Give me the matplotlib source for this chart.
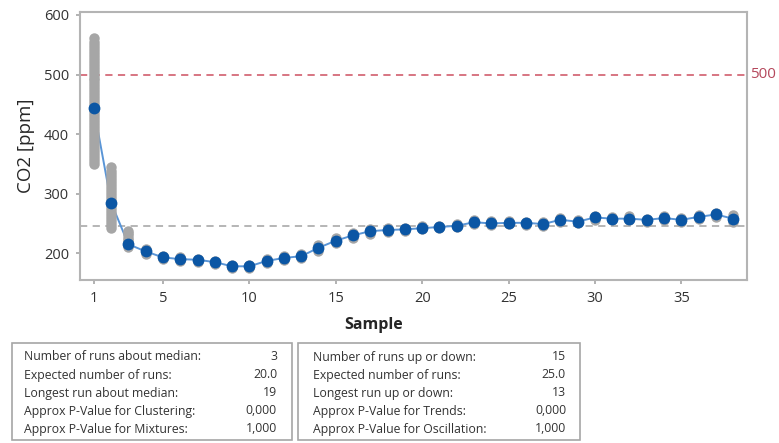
import matplotlib.pyplot as plt
from matplotlib.patches import Rectangle

# subgroup means of CO2 per sample
samples = list(range(1, 39))
co2_mean = [
    443, 285, 215, 203, 193, 190, 189, 185, 178, 178,
    187, 192, 195, 209, 221, 230, 237, 239, 240, 242,
    244, 246, 252, 250, 251, 251, 249, 256, 253, 260,
    258, 258, 256, 259, 256, 261, 265, 258,
]

# individual observations where the spread is visible
obs_1 = [350, 355, 360, 365, 370, 375, 380, 385, 390, 395, 400, 405,
         410, 415, 420, 425, 430, 435, 440, 445, 450, 455, 460, 465,
         470, 475, 480, 485, 490, 495, 500, 505, 510, 515, 520, 525,
         530, 535, 540, 545, 550, 555, 561]
obs_2 = [243, 248, 253, 258, 263, 268, 273, 278, 283, 288, 293, 298,
         303, 308, 313, 318, 323, 328, 333, 338, 344]
obs_3 = [210, 214, 218, 222, 226, 230, 234, 237]
# low / high observation of the remaining samples
obs_lo = [198, 190, 187, 186, 182, 175, 175, 183, 189, 192, 204, 217, 226,
          232, 236, 238, 240, 242, 244, 249, 247, 249, 248, 246, 252, 250,
          256, 255, 255, 253, 256, 253, 258, 261, 253]
obs_hi = [207, 196, 193, 191, 187, 181, 181, 190, 195, 199, 214, 225, 234,
          241, 242, 243, 245, 246, 249, 255, 254, 254, 253, 252, 259, 256,
          263, 261, 262, 258, 262, 259, 264, 268, 264]

median = 246
limit = 500

runs_median = [
    ("Number of runs about median:", "3"),
    ("Expected number of runs:", "20.0"),
    ("Longest run about median:", "19"),
    ("Approx P-Value for Clustering:", "0,000"),
    ("Approx P-Value for Mixtures:", "1,000"),
]
runs_updown = [
    ("Number of runs up or down:", "15"),
    ("Expected number of runs:", "25.0"),
    ("Longest run up or down:", "13"),
    ("Approx P-Value for Trends:", "0,000"),
    ("Approx P-Value for Oscillation:", "1,000"),
]

plt.rcParams["font.family"] = ["Open Sans", "DejaVu Sans"]
W, H = 779, 443
fig = plt.figure(figsize=(W / 100, H / 100), dpi=100)
ax = fig.add_axes([80 / W, 1 - 280 / H, 667 / W, 268 / H])

grey = "#a6a6a6"
blue = "#0b56a4"

ax.plot(samples, co2_mean, color="#5a95d6", lw=1.4, zorder=2)

obs_x, obs_y = [], []
for s, vals in zip([1, 2, 3], [obs_1, obs_2, obs_3]):
    obs_x += [s] * len(vals)
    obs_y += vals
for s, lo, hi in zip(samples[3:], obs_lo, obs_hi):
    obs_x += [s, s]
    obs_y += [lo, hi]
ax.plot(obs_x, obs_y, "o", color=grey, ms=7.5, mec="none", zorder=3)

ax.plot(samples, co2_mean, "o", color=blue, ms=8.5, mec="none", zorder=4)

ax.axhline(median, color="#b0b0b0", lw=1.3, ls=(0, (4, 3)), zorder=1)
ax.axhline(limit, color="#d46a78", lw=1.3, ls=(0, (4, 3)), zorder=1)
ax.text(1.004, limit, "500", transform=ax.get_yaxis_transform(),
        color="#b5485c", fontsize=11, va="center", ha="left")

ax.set_xlim(0.2, 38.8)
ax.set_ylim(155, 605)
ax.set_xticks([1, 5, 10, 15, 20, 25, 30, 35])
ax.set_yticks([200, 300, 400, 500, 600])
ax.tick_params(colors="#a6a6a6", labelcolor="#333333", labelsize=10.5,
               length=3, width=1.2, pad=5)
for side in ax.spines.values():
    side.set_color("#b4b4b4")
    side.set_linewidth(1.5)

ax.set_ylabel("CO2 [ppm]", fontsize=13.5, color="#262626", labelpad=6)
fig.text(374 / W, 1 - 325 / H, "Sample", fontsize=11.5, fontweight="bold",
         color="#262626", ha="center", va="center")

# summary tables below the chart
boxes = [
    (12, 292, 24, 277, runs_median),
    (298, 580, 313, 566, runs_updown),
]
line_y = [357, 375, 393, 411, 429]
for x0, x1, tx, vx, rows in boxes:
    fig.patches.append(Rectangle((x0 / W, 1 - 440 / H), (x1 - x0) / W,
                                 97 / H, transform=fig.transFigure,
                                 fill=False, ec="#a6a6a6", lw=1.2))
    for (label, value), y in zip(rows, line_y):
        fig.text(tx / W, 1 - y / H, label, fontsize=8.8, color="#333333",
                 va="center", ha="left")
        fig.text(vx / W, 1 - y / H, value, fontsize=8.8, color="#333333",
                 va="center", ha="right")

fig.savefig("out.png", dpi=100)
